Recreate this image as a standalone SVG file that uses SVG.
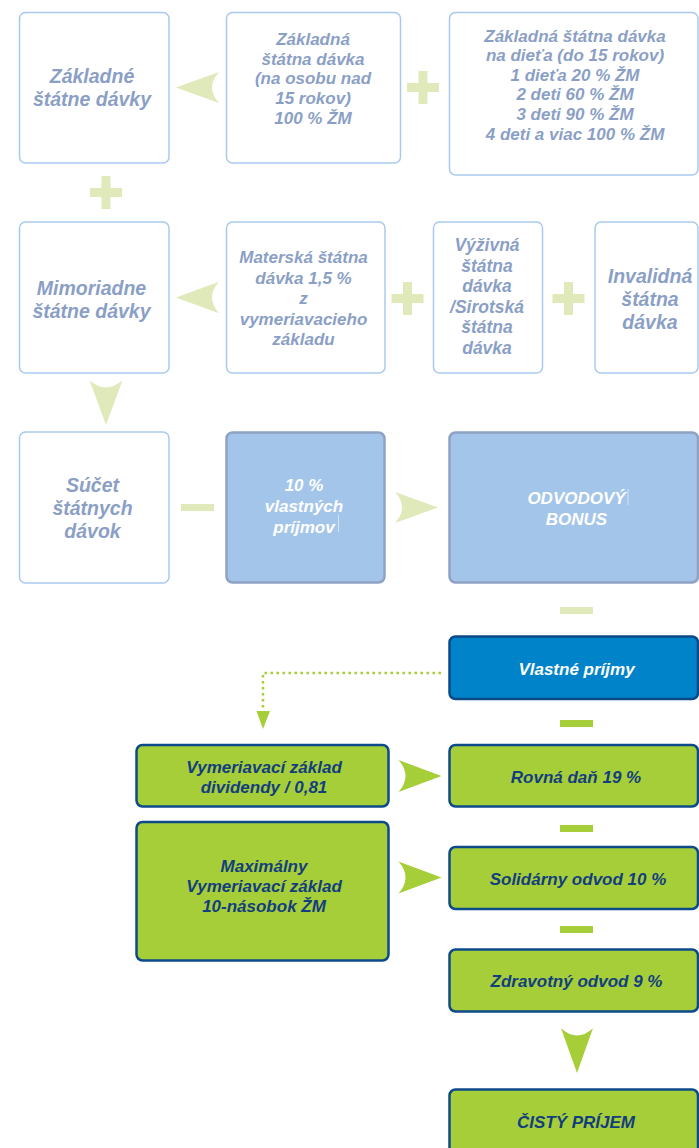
<svg xmlns="http://www.w3.org/2000/svg" xmlns:xlink="http://www.w3.org/1999/xlink" width="699" height="1148" viewBox="0 0 699 1148">
<style>
text{font-family:"Liberation Sans",Arial,sans-serif;font-weight:bold;font-style:italic;text-anchor:middle}
.lb{fill:#fff;stroke:#a9caee;stroke-width:1.5}
.mb{fill:#a3c5e9;stroke:#8fa2c4;stroke-width:2.5}
.bb{fill:#0083c9;stroke:#0c4a87;stroke-width:2.5}
.gb{fill:#a6ce39;stroke:#0d4a8a;stroke-width:2.5}
.lt{fill:#8b9fc6}
.wt{fill:#ffffff}
.dt{fill:#133e7e}
.big{font-size:19.5px}
.med{font-size:17px}
.lg{fill:#dfe9b9}
.gg{fill:#a6ce39}
</style>
<defs>
<path id="ah" d="M0,0 L-43,-16 Q-29,0 -43,16 Z"/>
<path id="plus" d="M-16,-4.5 h32 v9 h-32 Z M-4.5,-16.5 h9 v33 h-9 Z"/>
</defs>

<g id="connectors">
<use xlink:href="#ah" class="lg" transform="translate(176,87.5) rotate(180) scale(1,0.97)"/>
<use xlink:href="#plus" class="lg" transform="translate(423,87.5)"/>
<use xlink:href="#plus" class="lg" transform="translate(106,192.5)"/>
<use xlink:href="#ah" class="lg" transform="translate(176,297.5) rotate(180) scale(1,0.98)"/>
<use xlink:href="#plus" class="lg" transform="translate(407.5,298.5)"/>
<use xlink:href="#plus" class="lg" transform="translate(568.5,298.5)"/>
<use xlink:href="#ah" class="lg" transform="translate(106,425) rotate(90) scale(1.04,1.03)"/>
<rect class="lg" x="181" y="504" width="33" height="7"/>
<use xlink:href="#ah" class="lg" transform="translate(438,507.5) scale(1,0.97)"/>
<rect class="lg" x="560" y="607" width="33" height="7"/>
<polyline points="441,673 263,673 263,712" fill="none" stroke="#a6ce39" stroke-width="2.5" stroke-dasharray="2.5 3.5"/>
<path class="gg" d="M256.5,711 L270,711 L263,729 Z"/>
<rect class="gg" x="560" y="720" width="33" height="7"/>
<use xlink:href="#ah" class="gg" transform="translate(441.5,776)"/>
<rect class="gg" x="560" y="825" width="33" height="7"/>
<use xlink:href="#ah" class="gg" transform="translate(441.5,877.5)"/>
<rect class="gg" x="560" y="926" width="33" height="7"/>
<use xlink:href="#ah" class="gg" transform="translate(577,1073) rotate(90) scale(1.04,1)"/>
</g>

<g id="zakladne-statne-davky">
<rect class="lb" x="19.5" y="12.5" width="149.5" height="150.5" rx="6"/>
<text class="lt big"><tspan x="92" y="82.5">Základné</tspan><tspan x="92" y="105.5">štátne dávky</tspan></text>
</g>

<g id="zakladna-davka-osoba">
<rect class="lb" x="226.5" y="12.5" width="174" height="150.5" rx="6"/>
<text class="lt med"><tspan x="313" y="45">Základná</tspan><tspan x="313" y="64.7">štátna dávka</tspan><tspan x="313" y="84.4">(na osobu nad</tspan><tspan x="313" y="104.1">15 rokov)</tspan><tspan x="313" y="123.8">100 % ŽM</tspan></text>
</g>

<g id="zakladna-davka-dieta">
<rect class="lb" x="449.5" y="12.5" width="248.5" height="162.5" rx="6"/>
<text class="lt med"><tspan x="575" y="41.5">Základná štátna dávka</tspan><tspan x="575" y="61.1">na dieťa (do 15 rokov)</tspan><tspan x="575" y="80.7">1 dieťa 20 % ŽM</tspan><tspan x="575" y="100.4">2 deti 60 % ŽM</tspan><tspan x="575" y="120">3 deti 90 % ŽM</tspan><tspan x="575" y="139.6">4 deti a viac 100 % ŽM</tspan></text>
</g>

<g id="mimoriadne-statne-davky">
<rect class="lb" x="19.5" y="222" width="149.5" height="151" rx="6"/>
<text class="lt big"><tspan x="91.5" y="294.5">Mimoriadne</tspan><tspan x="91.5" y="317.5">štátne dávky</tspan></text>
</g>

<g id="materska-davka">
<rect class="lb" x="226.5" y="222" width="158.5" height="151" rx="6"/>
<text class="lt med"><tspan x="303.5" y="263">Materská štátna</tspan><tspan x="303.5" y="283.5">dávka 1,5 %</tspan><tspan x="303.5" y="304">z</tspan><tspan x="303.5" y="324.5">vymeriavacieho</tspan><tspan x="303.5" y="345">základu</tspan></text>
</g>

<g id="vyzivna-sirotska-davka">
<rect class="lb" x="433.5" y="222" width="109" height="151" rx="6"/>
<text class="lt med" style="font-size:17.5px"><tspan x="487" y="251">Výživná</tspan><tspan x="487" y="271.5">štátna</tspan><tspan x="487" y="292">dávka</tspan><tspan x="487" y="312.5">/Sirotská</tspan><tspan x="487" y="333">štátna</tspan><tspan x="487" y="353.5">dávka</tspan></text>
</g>

<g id="invalidna-davka">
<rect class="lb" x="595" y="222" width="103" height="151" rx="6"/>
<text class="lt big"><tspan x="650" y="283">Invalidná</tspan><tspan x="650" y="306">štátna</tspan><tspan x="650" y="329">dávka</tspan></text>
</g>

<g id="sucet-statnych-davok">
<rect class="lb" x="19.5" y="432" width="149.5" height="151" rx="6"/>
<text class="lt big"><tspan x="92.5" y="491.5">Súčet</tspan><tspan x="92.5" y="514.5">štátnych</tspan><tspan x="92.5" y="537.5">dávok</tspan></text>
</g>

<g id="desat-percent-prijmov">
<rect class="mb" x="226.5" y="432.5" width="158" height="150" rx="6"/>
<text class="wt med"><tspan x="304" y="491">10 %</tspan><tspan x="304" y="512">vlastných</tspan><tspan x="304" y="533">príjmov</tspan></text>
<rect x="338" y="515" width="1" height="17" fill="#d6e5f5"/>
</g>

<g id="odvodovy-bonus">
<rect class="mb" x="449.5" y="432.5" width="248.5" height="150" rx="6"/>
<text class="wt med"><tspan x="576.5" y="503.5">ODVODOVÝ</tspan><tspan x="576.5" y="525">BONUS</tspan></text>
<rect x="627.5" y="489" width="1" height="16" fill="#d6e5f5"/>
</g>

<g id="vlastne-prijmy">
<rect class="bb" x="449.5" y="636.5" width="248.5" height="62.5" rx="6"/>
<text class="wt med" x="576.5" y="674.5">Vlastné príjmy</text>
</g>

<g id="vymeriavaci-zaklad-dividendy">
<rect class="gb" x="136.5" y="745" width="252" height="61.5" rx="6"/>
<text class="dt med"><tspan x="264" y="772.5">Vymeriavací základ</tspan><tspan x="264" y="793">dividendy / 0,81</tspan></text>
</g>

<g id="rovna-dan">
<rect class="gb" x="449.5" y="745" width="248.5" height="61.5" rx="6"/>
<text class="dt med" x="576" y="783">Rovná daň 19 %</text>
</g>

<g id="maximalny-vymeriavaci-zaklad">
<rect class="gb" x="136.5" y="822" width="252" height="138.5" rx="6"/>
<text class="dt med"><tspan x="264" y="872">Maximálny</tspan><tspan x="264" y="892">Vymeriavací základ</tspan><tspan x="264" y="912">10-násobok ŽM</tspan></text>
</g>

<g id="solidarny-odvod">
<rect class="gb" x="449.5" y="847" width="248.5" height="62" rx="6"/>
<text class="dt med" x="578" y="885">Solidárny odvod 10 %</text>
</g>

<g id="zdravotny-odvod">
<rect class="gb" x="449.5" y="949.5" width="248.5" height="62" rx="6"/>
<text class="dt med" x="576.5" y="987">Zdravotný odvod 9 %</text>
</g>

<g id="cisty-prijem">
<rect class="gb" x="449.5" y="1089.5" width="248.5" height="70" rx="6"/>
<text class="dt med" x="576" y="1128">ČISTÝ PRÍJEM</text>
</g>
</svg>
